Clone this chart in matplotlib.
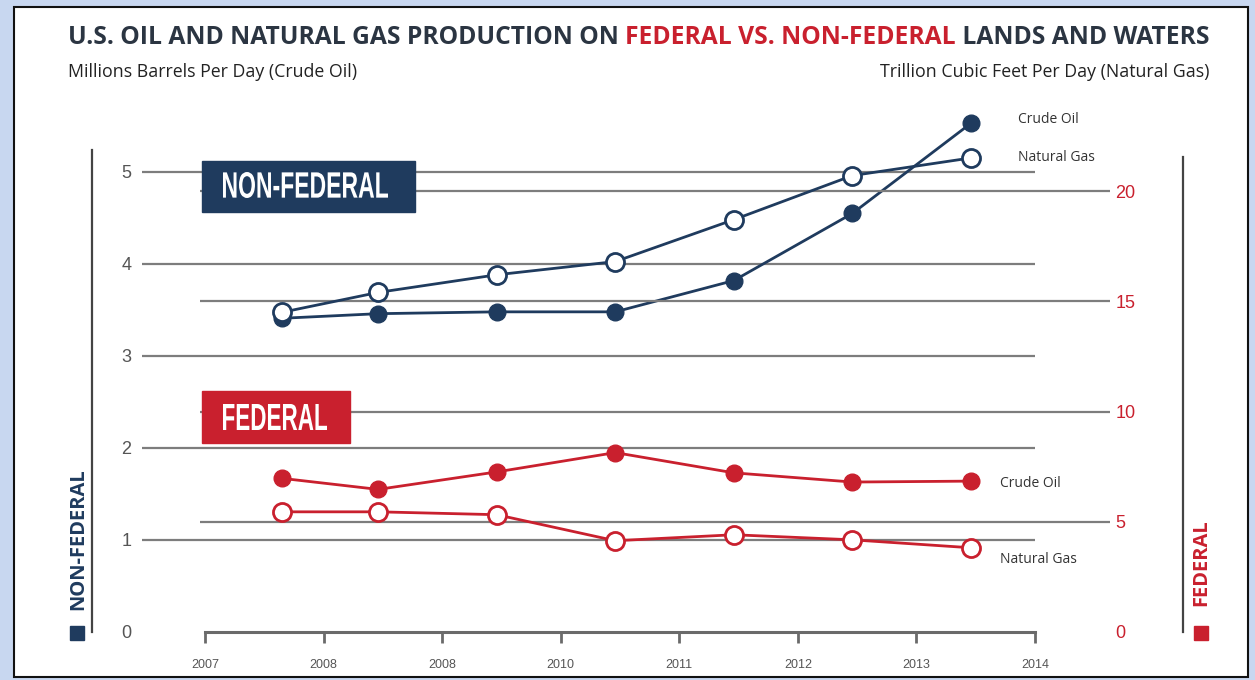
import matplotlib
matplotlib.use('Agg')
import matplotlib.pyplot as plt
from matplotlib.patches import Rectangle, PathPatch
from matplotlib.lines import Line2D
from matplotlib.textpath import TextPath
from matplotlib.font_manager import FontProperties
from matplotlib.transforms import Affine2D, IdentityTransform

# 颜色
navy = '#1f3b5e'
red = '#c9202e'
dark = '#2b3542'
grid_gray = '#7d7d7d'

# 数据
tick_labels = ['2007', '2008', '2008', '2010', '2011', '2012', '2013', '2014']
point_pos = [0.65, 1.46, 2.46, 3.46, 4.46, 5.46, 6.46]

nonfed_oil = [3.41, 3.46, 3.48, 3.48, 3.82, 4.55, 5.53]      # 百万桶/天（左轴）
nonfed_gas = [14.5, 15.4, 16.2, 16.8, 18.7, 20.7, 21.5]      # 万亿立方英尺/天（右轴）
fed_oil = [1.67, 1.55, 1.74, 1.95, 1.73, 1.63, 1.64]
fed_gas = [5.45, 5.45, 5.32, 4.14, 4.41, 4.18, 3.82]

left_ticks = [0, 1, 2, 3, 4, 5]
right_ticks = [0, 5, 10, 15, 20]

W, H = 1255, 680
plt.rcParams['font.family'] = ['Open Sans', 'DejaVu Sans']

fig = plt.figure(figsize=(W / 100, H / 100), dpi=100)
fig.patch.set_facecolor('#c8d7f0')


def px(x, y):
    # 像素坐标（左上原点）转换为figure坐标
    return x / W, (H - y) / H


def fit_text(s, x0, x1, y_top, y_bot, color):
    # 压缩字体效果：把文字路径拉伸到指定像素区域
    tp = TextPath((0, 0), s, size=100, prop=FontProperties(family='Liberation Sans', weight='bold'))
    bb = tp.get_extents()
    tr = (Affine2D().translate(-bb.x0, -bb.y0)
          .scale((x1 - x0) / bb.width, (y_bot - y_top) / bb.height)
          .translate(x0, H - y_bot))
    fig.add_artist(PathPatch(tr.transform_path(tp), facecolor=color, lw=0,
                             transform=IdentityTransform(), zorder=6))


# 白色面板 + 黑色边框
fig.add_artist(Rectangle(px(14, 677), 1234 / W, 670 / H, facecolor='white',
                         edgecolor='#111111', linewidth=1.5, zorder=0))

# 主坐标轴：x从像素205到1035，y=0在像素632
ax = fig.add_axes([205 / W, 48 / H, 830 / W, 532 / H])
ax.set_xlim(0, 7)
ax.set_ylim(0, 532 / 92)
ax.patch.set_visible(False)
ax2 = ax.twinx()
ax2.set_ylim(0, 532 / 22.05)

for a in (ax, ax2):
    for s in a.spines.values():
        s.set_visible(False)
ax.spines['bottom'].set_visible(True)
ax.spines['bottom'].set_color('#6a6a6a')
ax.spines['bottom'].set_linewidth(2.2)

ax.set_xticks(range(len(tick_labels)))
ax.set_xticklabels(tick_labels)
ax.tick_params(axis='x', direction='out', length=8, width=2, color='#6a6a6a',
               labelsize=9, labelcolor='#555555', pad=11.5)
for lab in ax.get_xticklabels():
    lab.set_family('Liberation Sans')

ax.set_yticks(left_ticks)
ax.tick_params(axis='y', length=0, pad=53, labelsize=13, labelcolor='#555555')
ax2.set_yticks(right_ticks)
ax2.tick_params(axis='y', length=0, pad=58, labelsize=13, labelcolor=red)
for lab in ax.get_yticklabels() + ax2.get_yticklabels():
    lab.set_family('Liberation Sans')

# 网格线
ax.hlines(left_ticks[1:], -0.531, 7.0, colors=grid_gray, lw=1.6, clip_on=False, zorder=1)
ax2.hlines(right_ticks[1:], -0.042, 7.633, colors=grid_gray, lw=1.6, clip_on=False, zorder=1)

# 折线
ax.plot(point_pos, nonfed_oil, color=navy, lw=2, marker='o', ms=12,
        mfc=navy, mec=navy, zorder=3, clip_on=False)
ax.plot(point_pos, fed_oil, color=red, lw=2, marker='o', ms=12,
        mfc=red, mec=red, zorder=3, clip_on=False)
ax2.plot(point_pos, nonfed_gas, color=navy, lw=2, marker='o', ms=13,
         mfc='white', mec=navy, mew=2, zorder=3, clip_on=False)
ax2.plot(point_pos, fed_gas, color=red, lw=2, marker='o', ms=13,
         mfc='white', mec=red, mew=2, zorder=3, clip_on=False)

# 系列标签
lab_kw = dict(textcoords='offset points', fontsize=10, color='#333333', va='center', ha='left')
ax.annotate('Crude Oil', (point_pos[-1], nonfed_oil[-1]), xytext=(34, 2.5), **lab_kw)
ax2.annotate('Natural Gas', (point_pos[-1], nonfed_gas[-1]), xytext=(34, 0), **lab_kw)
ax.annotate('Crude Oil', (point_pos[-1], fed_oil[-1]), xytext=(21, -1.5), **lab_kw)
ax2.annotate('Natural Gas', (point_pos[-1], fed_gas[-1]), xytext=(21, -8.6), **lab_kw)

# 两侧竖线
fig.add_artist(Line2D([92 / W, 92 / W], [px(0, 632)[1], px(0, 150)[1]], color='#444444', lw=1.6))
fig.add_artist(Line2D([1183 / W, 1183 / W], [px(0, 632)[1], px(0, 157)[1]], color='#444444', lw=1.6))

# 侧边说明
fig.text(*px(78, 539), 'NON-FEDERAL', rotation=90, color=navy, fontsize=14.5,
         fontweight='bold', ha='center', va='center')
fig.add_artist(Rectangle(px(70, 640), 14 / W, 14 / H, color=navy))
fig.text(*px(1201, 563), 'FEDERAL', rotation=90, color=red, fontsize=14.5,
         fontweight='bold', ha='center', va='center')
fig.add_artist(Rectangle(px(1194, 640), 14 / W, 14 / H, color=red))

# 标签框
fig.add_artist(Rectangle(px(202, 212), 213 / W, 51 / H, color=navy, zorder=5))
fit_text('NON-FEDERAL', 223, 388, 172, 198, 'white')
fig.add_artist(Rectangle(px(202, 443), 148 / W, 52 / H, color=red, zorder=5))
fit_text('FEDERAL', 223, 327, 404, 430, 'white')

# 副标题
fig.text(*px(68, 72), 'Millions Barrels Per Day (Crude Oil)', fontsize=12.8,
         color='#222222', ha='left', va='center')
fig.text(*px(1210, 72), 'Trillion Cubic Feet Per Day (Natural Gas)', fontsize=12.8,
         color='#222222', ha='right', va='center')

# 多色标题：逐段拼接并缩放到目标宽度
parts = [('U.S. OIL AND NATURAL GAS PRODUCTION ON ', dark),
         ('FEDERAL VS. NON-FEDERAL', red),
         (' LANDS AND WATERS', dark)]
fs = 16
renderer = fig.canvas.get_renderer()
texts = [fig.text(0, 0, s, fontsize=fs, fontweight='bold', color=c, va='center') for s, c in parts]
total = sum(t.get_window_extent(renderer).width for t in texts)
fs = fs * (1207 - 68) / total
x = 68
for t in texts:
    t.set_fontsize(fs)
    t.set_position(px(x, 38))
    x += t.get_window_extent(renderer).width

fig.savefig('out.png', dpi=100, facecolor=fig.get_facecolor())
